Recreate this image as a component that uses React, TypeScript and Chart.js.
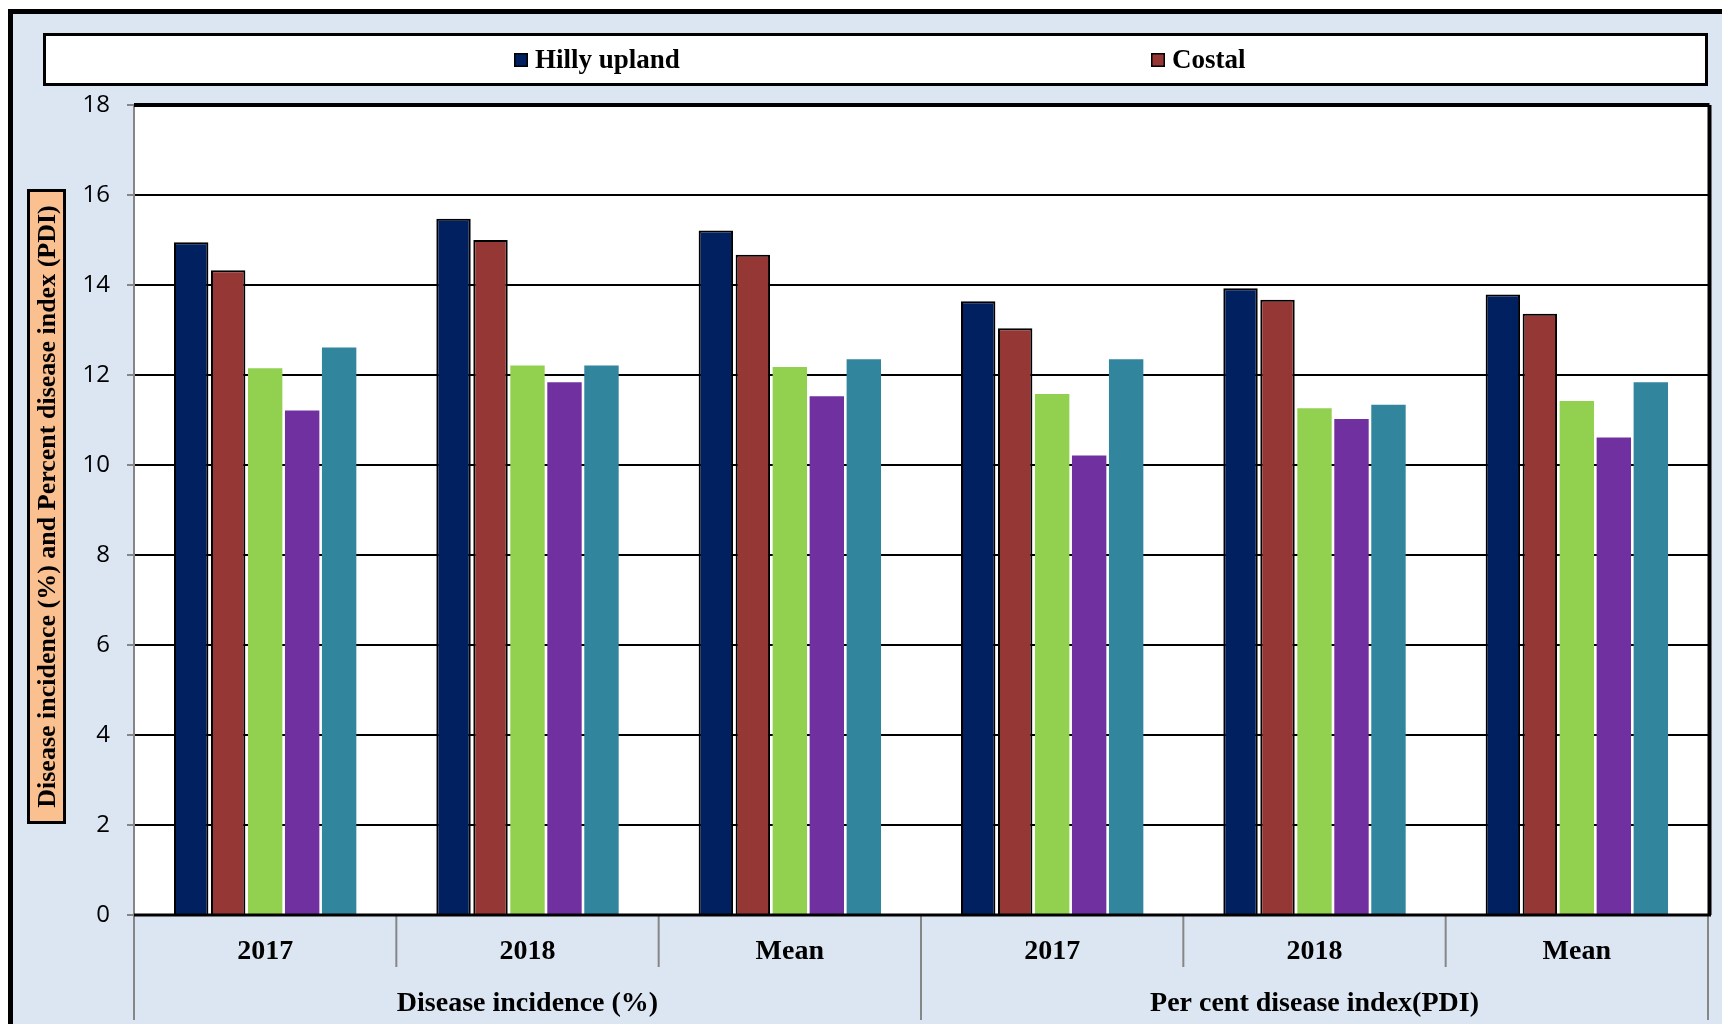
import React, { useEffect, useRef } from "react";
import { Chart, registerables } from "chart.js";

Chart.register(...registerables);

// ---------- data ----------
const categories = ["2017", "2018", "Mean", "2017", "2018", "Mean"];
const groupLabels = ["Disease incidence (%)", "Per cent disease index(PDI)"];
const groupSizes = [3, 3];
const seriesNames = ["Hilly upland", "Costal", "Series 3", "Series 4", "Series 5"];
const legendSeriesCount = 2;
const hillyUpland = [14.95, 15.47, 15.21, 13.64, 13.93, 13.79];
const costal = [14.33, 15.0, 14.67, 13.04, 13.67, 13.36];
const series3 = [12.15, 12.21, 12.18, 11.58, 11.26, 11.42];
const series4 = [11.21, 11.84, 11.53, 10.21, 11.02, 10.61];
const series5 = [12.61, 12.21, 12.35, 12.35, 11.34, 11.84];
const yMin = 0;
const yMax = 18;
const yStep = 2;
const yTitle = "Disease incidence (%) and Percent disease index (PDI)";

// ---------- styles ----------
const W = 1722;
const H = 1024;
const colors = ["#002060", "#953735", "#92D050", "#7030A0", "#31859C"];
const bordered = [true, true, false, false, false];
const SERIF = "'Liberation Serif', 'Times New Roman', serif";
const SANS = "'Open Sans', 'Liberation Sans', sans-serif";
const legendX = [514, 1151];

const decor = {
  id: "decor",
  beforeDraw(chart: any) {
    const { ctx, chartArea: a } = chart;
    ctx.save();
    ctx.fillStyle = "#ffffff";
    ctx.fillRect(0, 0, W, H);
    ctx.fillStyle = "#DCE6F2";
    ctx.fillRect(12, 13, W, H);
    ctx.fillStyle = "#000000";
    ctx.fillRect(8, 9, W, 5);
    ctx.fillRect(8, 9, 5, H);
    // plot background
    ctx.fillStyle = "#ffffff";
    ctx.fillRect(a.left, a.top, a.right - a.left, a.bottom - a.top);

    // legend box
    ctx.fillStyle = "#ffffff";
    ctx.fillRect(43, 33, 1665, 53);
    ctx.lineWidth = 3;
    ctx.strokeStyle = "#000000";
    ctx.strokeRect(44.5, 34.5, 1662, 50);
    ctx.font = `bold 27px ${SERIF}`;
    ctx.textBaseline = "middle";
    ctx.textAlign = "left";
    const ds = chart.data.datasets;
    for (let i = 0; i < legendSeriesCount; i++) {
      const x = legendX[i];
      ctx.fillStyle = ds[i].backgroundColor;
      ctx.fillRect(x, 53, 14, 14);
      ctx.lineWidth = 1.5;
      ctx.strokeStyle = "#000";
      ctx.strokeRect(x + 0.75, 53.75, 12.5, 12.5);
      ctx.fillStyle = "#000";
      ctx.fillText(ds[i].label, x + 21, 61);
    }

    // y title box
    ctx.fillStyle = "#FAC090";
    ctx.fillRect(27, 189, 39, 635);
    ctx.lineWidth = 3;
    ctx.strokeStyle = "#000";
    ctx.strokeRect(28.5, 190.5, 36, 632);
    ctx.save();
    ctx.translate(47, (189 + 824) / 2);
    ctx.rotate(-Math.PI / 2);
    ctx.font = `bold 26px ${SERIF}`;
    ctx.fillStyle = "#000";
    ctx.textAlign = "center";
    ctx.textBaseline = "middle";
    ctx.fillText(yTitle, 0, 1);
    ctx.restore();
    ctx.restore();
  },
  afterDatasetsDraw(chart: any) {
    const { ctx, chartArea: a } = chart;
    const xs = chart.scales.x;
    ctx.save();
    // category boundaries
    const n = categories.length;
    const b: number[] = [a.left];
    for (let i = 1; i < n; i++) {
      b.push((xs.getPixelForValue(i - 1) + xs.getPixelForValue(i)) / 2);
    }
    b.push(a.right);
    const groupStarts = new Set<number>();
    let acc = 0;
    groupStarts.add(0);
    groupSizes.forEach((s) => {
      acc += s;
      groupStarts.add(acc);
    });
    ctx.strokeStyle = "#868686";
    ctx.lineWidth = 2;
    b.forEach((x, i) => {
      ctx.beginPath();
      ctx.moveTo(x, a.bottom);
      ctx.lineTo(x, groupStarts.has(i) ? 1020 : 967);
      ctx.stroke();
    });
    // left axis line
    ctx.beginPath();
    ctx.moveTo(a.left, a.top);
    ctx.lineTo(a.left, a.bottom);
    ctx.stroke();
    // top/right/bottom borders
    ctx.strokeStyle = "#000";
    ctx.lineWidth = 4;
    ctx.beginPath();
    ctx.moveTo(a.left, a.top);
    ctx.lineTo(a.right + 1.5, a.top);
    ctx.moveTo(a.right + 1.5, a.top);
    ctx.lineTo(a.right + 1.5, a.bottom);
    ctx.stroke();
    ctx.lineWidth = 3;
    ctx.beginPath();
    ctx.moveTo(a.left, a.bottom);
    ctx.lineTo(a.right + 3, a.bottom);
    ctx.stroke();

    // group labels
    ctx.font = `bold 28px ${SERIF}`;
    ctx.fillStyle = "#000";
    ctx.textAlign = "center";
    ctx.textBaseline = "middle";
    let start = 0;
    groupSizes.forEach((s, gi) => {
      const cx = (b[start] + b[start + s]) / 2;
      ctx.fillText(groupLabels[gi], cx, 1004);
      start += s;
    });
    ctx.restore();
  },
};

export default function App() {
  const ref = useRef<HTMLCanvasElement>(null);
  useEffect(() => {
    const canvas = ref.current;
    if (!canvas) return;
    const values = [hillyUpland, costal, series3, series4, series5];
    const chart = new Chart(canvas, {
      type: "bar",
      data: {
        labels: categories,
        datasets: values.map((v, i) => ({
          label: seriesNames[i],
          data: v,
          backgroundColor: colors[i],
          borderColor: bordered[i] ? "#000000" : colors[i],
          borderWidth: bordered[i] ? 2 : 0,
          categoryPercentage: 0.705,
          barPercentage: 0.93,
        })),
      },
      options: {
        responsive: false,
        animation: false,
        devicePixelRatio: 1,
        layout: { padding: { left: 70, right: 14, top: 105, bottom: 0 } },
        plugins: {
          legend: { display: false },
          tooltip: { enabled: false },
          title: { display: false },
        },
        scales: {
          x: {
            grid: { display: false, drawTicks: false, tickLength: 0 },
            border: { display: false },
            ticks: {
              color: "#000",
              font: { family: SERIF, size: 28, weight: "bold" },
              padding: 20,
              maxRotation: 0,
              autoSkip: false,
            },
            afterFit: (s: any) => {
              s.height = 109;
            },
          },
          y: {
            min: yMin,
            max: yMax,
            ticks: {
              stepSize: yStep,
              color: "#000",
              font: { family: SANS, size: 24 },
              padding: 17,
            },
            grid: {
              color: "#000",
              lineWidth: 2,
              tickColor: "#868686",
              tickLength: 7,
            },
            border: { display: false },
            afterFit: (s: any) => {
              s.width = 64;
            },
          },
        },
      },
      plugins: [decor],
    });
    return () => chart.destroy();
  }, []);
  return (
    <div style={{ position: "absolute", left: 0, top: 0, width: W, height: H }}>
      <canvas ref={ref} width={W} height={H} style={{ display: "block" }} />
    </div>
  );
}
